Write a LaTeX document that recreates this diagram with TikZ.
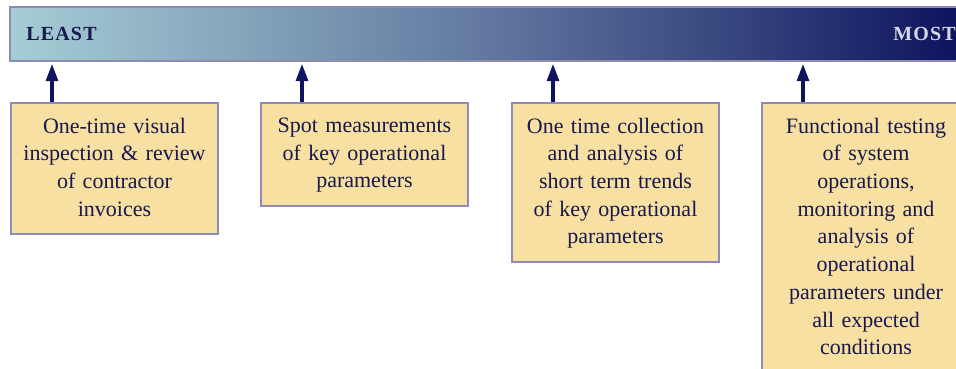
\documentclass[tikz,border=0pt]{standalone}
\usepackage{fontspec}
\setmainfont{Liberation Serif}
\usetikzlibrary{arrows.meta}

\definecolor{barleft}{RGB}{166,205,214}
\definecolor{barmidA}{RGB}{132,164,186}
\definecolor{barmidB}{RGB}{98,120,160}
\definecolor{barmidC}{RGB}{56,72,128}
\definecolor{barright}{RGB}{14,20,94}
\definecolor{frame}{RGB}{140,140,182}
\definecolor{boxfill}{RGB}{248,223,162}
\definecolor{ink}{RGB}{22,24,78}
\definecolor{arrowblue}{RGB}{14,20,96}
\definecolor{mostink}{RGB}{214,216,232}

% left-to-right gradient; a shaded path covers the 25bp--75bp span
\pgfdeclarehorizontalshading{scalebar}{100bp}{%
  color(0bp)=(barleft);
  color(25bp)=(barleft);
  color(37.5bp)=(barmidA);
  color(50bp)=(barmidB);
  color(62.5bp)=(barmidC);
  color(75bp)=(barright);
  color(100bp)=(barright)}

\tikzset{
  stagebox/.style={draw=frame, line width=2.2pt, fill=boxfill},
  stagetext/.style={anchor=north, text width=#1, align=center, inner sep=0pt,
    text=ink, font=\fontsize{16.5}{20.8}\selectfont},
  feed/.style={draw=arrowblue, line width=2.4pt,
    -{Triangle[length=13pt, width=9pt]}, shorten >=1.4pt},
  endlabel/.style={font=\fontsize{15}{17}\selectfont\bfseries\addfontfeature{LetterSpace=6}, inner sep=0pt}
}

\begin{document}
\begin{tikzpicture}[x=0.75pt, y=-0.75pt]
  \useasboundingbox (0,0) rectangle (956,368);
  \clip (0,0) rectangle (956,368);

  % graded scale bar
  \path[shading=scalebar] (10,7) rectangle (956,61);
  \draw[frame, line width=2.2pt] (10,7) rectangle (975,61);
  \node[endlabel, text=ink, anchor=west] (least) at (26,34) {LEAST};
  \node[endlabel, text=mostink, anchor=west] (most) at (893,34) {MOST};

  % stage boxes
  \draw[stagebox] (11,103) rectangle (218,234);
  \draw[stagebox] (261,103) rectangle (468,206);
  \draw[stagebox] (512,103) rectangle (719,262);
  \draw[stagebox] (762,103) rectangle (975,390);

  \node[stagetext=205*0.75pt] (t1) at (114.5,117.5)
    {One-time visual\\inspection \& review\\of contractor\\invoices};
  \node[stagetext=205*0.75pt] (t2) at (364.5,117.5)
    {Spot measurements\\of key operational\\parameters};
  \node[stagetext=205*0.75pt] (t3) at (615.5,117.5)
    {One time collection\\and analysis of\\short term trends\\of key operational\\parameters};
  \node[stagetext=205*0.75pt] (t4) at (866,117.5)
    {Functional testing\\of system\\operations,\\monitoring and\\analysis of\\operational\\parameters under\\all expected\\conditions};

  % anchor points for the connectors
  \coordinate (b1) at (52,102);   \coordinate (s1) at (52,62);
  \coordinate (b2) at (302,102);  \coordinate (s2) at (302,62);
  \coordinate (b3) at (553,102);  \coordinate (s3) at (553,62);
  \coordinate (b4) at (803,102);  \coordinate (s4) at (803,62);

  \draw[feed] (b1) -- (s1);
  \draw[feed] (b2) -- (s2);
  \draw[feed] (b3) -- (s3);
  \draw[feed] (b4) -- (s4);
\end{tikzpicture}
\end{document}
